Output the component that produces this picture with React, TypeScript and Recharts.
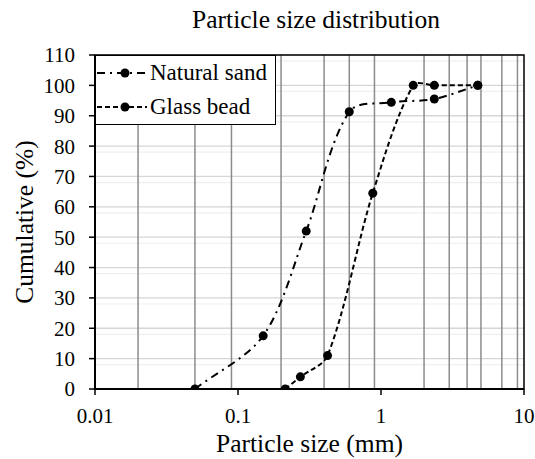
import {
  CartesianGrid,
  Line,
  LineChart,
  ReferenceArea,
  XAxis,
  YAxis,
} from "recharts";

const SERIF = '"Liberation Serif", "Times New Roman", serif';

// sieve sizes (mm) and cumulative passing (%)
const sandSize = [0.05, 0.15, 0.3, 0.6, 1.18, 2.36, 4.75];
const sandPassing = [0, 17.5, 52, 91.3, 94.4, 95.5, 100];
const beadSize = [0.214, 0.273, 0.423, 0.876, 1.68, 2.36, 4.75];
const beadPassing = [0, 4, 11, 64.5, 100, 100, 100];

const seriesNames = ["Natural sand", "Glass bead"];
const seriesDashes = ["8 5 2 5", "5 3"];

const xTicks = [0.01, 0.1, 1, 10];
const yTicks = [0, 10, 20, 30, 40, 50, 60, 70, 80, 90, 100, 110];
const xMinorGrid = [
  0.02, 0.03, 0.04, 0.05, 0.06, 0.07, 0.08, 0.09,
  0.2, 0.3, 0.4, 0.5, 0.6, 0.7, 0.8, 0.9,
  2, 3, 4, 5, 6, 7, 8, 9,
];
const yMinorGrid = [
  2, 4, 6, 8, 12, 14, 16, 18, 22, 24, 26, 28, 32, 34, 36, 38, 42, 44, 46, 48,
  52, 54, 56, 58, 62, 64, 66, 68, 72, 74, 76, 78, 82, 84, 86, 88, 92, 94, 96,
  98, 102, 104, 106, 108,
];

const sandData = sandSize.map((x, i) => ({ x, y: sandPassing[i] }));
const beadData = beadSize.map((x, i) => ({ x, y: beadPassing[i] }));

// smoothed line similar to the spreadsheet "smoothed line" option
const TENSION = 0.3;
function excelSmooth(context: any) {
  let xs: number[] = [];
  let ys: number[] = [];
  return {
    areaStart() {},
    areaEnd() {},
    lineStart() {
      xs = [];
      ys = [];
    },
    point(x: number, y: number) {
      xs.push(+x);
      ys.push(+y);
    },
    lineEnd() {
      const n = xs.length;
      if (n === 0) return;
      context.moveTo(xs[0], ys[0]);
      if (n === 1) return;
      const dir = (i: number) => {
        const a = Math.max(i - 1, 0);
        const b = Math.min(i + 1, n - 1);
        const dx = xs[b] - xs[a];
        const dy = ys[b] - ys[a];
        const len = Math.hypot(dx, dy) || 1;
        return [dx / len, dy / len];
      };
      for (let i = 0; i < n - 1; i++) {
        const seg = Math.hypot(xs[i + 1] - xs[i], ys[i + 1] - ys[i]) * TENSION;
        const [ax, ay] = dir(i);
        const [bx, by] = dir(i + 1);
        context.bezierCurveTo(
          xs[i] + ax * seg,
          ys[i] + ay * seg,
          xs[i + 1] - bx * seg,
          ys[i + 1] - by * seg,
          xs[i + 1],
          ys[i + 1],
        );
      }
    },
  };
}

function ChartLegend() {
  return (
    <div
      style={{
        position: "absolute",
        left: 95,
        top: 55,
        width: 181,
        height: 70,
        boxSizing: "border-box",
        border: "1.5px solid #000",
        background: "#fff",
        fontFamily: SERIF,
        fontSize: 23,
        color: "#000",
        zIndex: 2,
      }}
    >
      {seriesNames.map((name, i) => (
        <div
          key={name}
          style={{ display: "flex", alignItems: "center", height: 34 }}
        >
          <svg width={54} height={20} style={{ flex: "none" }}>
            <line
              x1={1}
              x2={51}
              y1={10}
              y2={10}
              stroke="#000"
              strokeWidth={2}
              strokeDasharray={seriesDashes[i]}
            />
            <circle cx={29} cy={10} r={4.5} fill="#000" />
          </svg>
          <span style={{ whiteSpace: "nowrap" }}>{name}</span>
        </div>
      ))}
    </div>
  );
}

function renderYTitle({ viewBox }: any) {
  const cx = viewBox.x + 24;
  const cy = viewBox.y + viewBox.height / 2;
  return (
    <text
      x={cx}
      y={cy}
      transform={`rotate(-90 ${cx} ${cy})`}
      textAnchor="middle"
      dominantBaseline="central"
      fontFamily={SERIF}
      fontSize={25.5}
      fill="#000"
    >
      Cumulative (%)
    </text>
  );
}

function renderXTitle({ viewBox }: any) {
  return (
    <text
      x={viewBox.x + viewBox.width / 2}
      y={viewBox.y + 63}
      textAnchor="middle"
      fontFamily={SERIF}
      fontSize={25.5}
      fill="#000"
    >
      Particle size (mm)
    </text>
  );
}

export default function App() {
  const tick = { fill: "#000", fontSize: 21, fontFamily: SERIF };
  return (
    <div
      style={{
        position: "absolute",
        left: 0,
        top: 0,
        width: 535,
        height: 459,
        background: "#fff",
      }}
    >
      <div
        style={{
          position: "absolute",
          left: 116,
          top: 7,
          width: 400,
          textAlign: "center",
          fontFamily: SERIF,
          fontSize: 25.5,
          lineHeight: "25.5px",
          color: "#000",
        }}
      >
        Particle size distribution
      </div>
      <LineChart
        width={535}
        height={459}
        margin={{ top: 55, right: 11, bottom: 0, left: 0 }}
      >
        <CartesianGrid
          vertical={false}
          horizontalValues={yMinorGrid}
          stroke="#efefef"
          strokeWidth={1.2}
        />
        <CartesianGrid
          vertical={false}
          horizontalValues={yTicks}
          stroke="#d6d6d6"
          strokeWidth={1.3}
        />
        <CartesianGrid
          horizontal={false}
          verticalValues={xMinorGrid}
          stroke="#8c8c8c"
          strokeWidth={1.5}
        />
        <XAxis
          type="number"
          dataKey="x"
          scale="log"
          domain={[0.01, 10]}
          ticks={xTicks}
          allowDataOverflow
          tickFormatter={(v) => String(v)}
          tick={tick}
          tickSize={6}
          tickMargin={13}
          axisLine={{ stroke: "#000", strokeWidth: 2 }}
          tickLine={{ stroke: "#000", strokeWidth: 1.5 }}
          height={70}
          label={{ content: renderXTitle }}
        />
        <YAxis
          type="number"
          domain={[0, 110]}
          ticks={yTicks}
          allowDataOverflow
          tick={tick}
          tickSize={6}
          tickMargin={14}
          axisLine={{ stroke: "#000", strokeWidth: 2 }}
          tickLine={{ stroke: "#000", strokeWidth: 1.5 }}
          width={95}
          label={{ content: renderYTitle }}
        />
        <ReferenceArea
          x1={0.01}
          x2={10}
          y1={0}
          y2={110}
          fill="none"
          stroke="#000"
          strokeWidth={1.5}
          ifOverflow="visible"
        />
        <Line
          data={sandData}
          dataKey="y"
          name={seriesNames[0]}
          type={excelSmooth as any}
          stroke="#000"
          strokeWidth={2}
          strokeDasharray={seriesDashes[0]}
          dot={{ r: 4.5, fill: "#000", strokeWidth: 0 }}
          isAnimationActive={false}
        />
        <Line
          data={beadData}
          dataKey="y"
          name={seriesNames[1]}
          type={excelSmooth as any}
          stroke="#000"
          strokeWidth={2}
          strokeDasharray={seriesDashes[1]}
          dot={{ r: 4.5, fill: "#000", strokeWidth: 0 }}
          isAnimationActive={false}
        />
      </LineChart>
      <ChartLegend />
    </div>
  );
}
